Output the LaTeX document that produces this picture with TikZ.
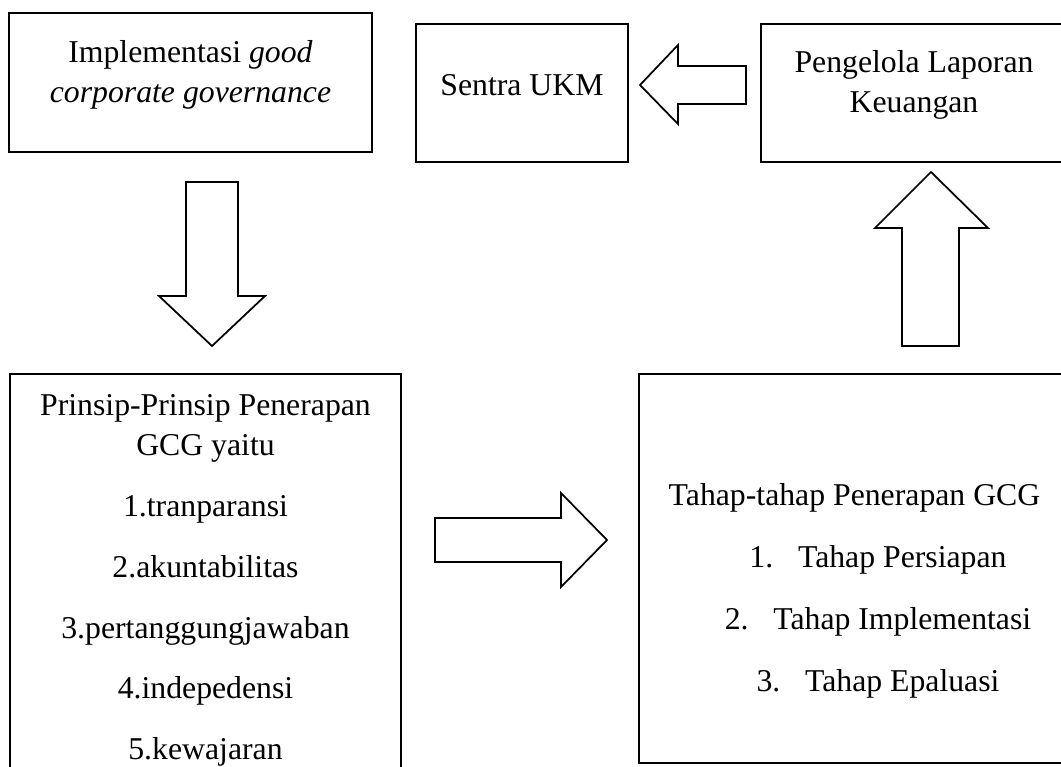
\documentclass[tikz,border=0pt]{standalone}
\usepackage{fontspec}
\setmainfont{Liberation Serif}

\begin{document}
\begin{tikzpicture}[x = 0.4pt, y = -0.4pt, font = \fontsize{12.7}{15}\selectfont]
\tikzstyle{kotakStyle} = [draw, line width = 0.8pt]
\tikzstyle{panahStyle} = [draw, line width = 0.7pt, fill = white, line join = miter]
\tikzstyle{teksStyle} = [anchor = base, inner sep = 0pt]
\useasboundingbox (0,0) rectangle (1061,767);
% kotak
\draw[kotakStyle] (9,13) rectangle (372,152);
\draw[kotakStyle] (416,24) rectangle (628,162);
\draw[kotakStyle] (761,24) rectangle (1066,162);
\draw[kotakStyle] (10,374) rectangle (401,772);
\draw[kotakStyle] (639,374) rectangle (1066,763);
% teks
\node[teksStyle] (impl1) at (190.5,62) {Implementasi \textit{good}};
\node[teksStyle] (impl2) at (190.5,102) {\textit{corporate governance}};
\node[teksStyle] (sentra) at (522,95.5) {Sentra UKM};
\node[teksStyle] (kelola1) at (914,72) {Pengelola Laporan};
\node[teksStyle] (kelola2) at (914,112) {Keuangan};
\node[teksStyle] (prinsip1) at (205.5,415) {Prinsip-Prinsip Penerapan};
\node[teksStyle] (prinsip2) at (205.5,455) {GCG yaitu};
\node[teksStyle] (p1) at (205.5,516) {1.tranparansi};
\node[teksStyle] (p2) at (205.5,577) {2.akuntabilitas};
\node[teksStyle] (p3) at (205.5,638) {3.pertanggungjawaban};
\node[teksStyle] (p4) at (205.5,698) {4.indepedensi};
\node[teksStyle] (p5) at (205.5,759) {5.kewajaran};
\node[teksStyle] (tahap) at (854.5,505) {Tahap-tahap Penerapan GCG};
\node[teksStyle] (t1) at (878,567) {1.\hspace{0.78em}Tahap Persiapan};
\node[teksStyle] (t2) at (878,629) {2.\hspace{0.78em}Tahap Implementasi};
\node[teksStyle] (t3) at (878,691) {3.\hspace{0.78em}Tahap Epaluasi};
% panah blok
\draw[panahStyle] (186,182) -- (238,182) -- (238,296) -- (265,296) -- (212,346) -- (159,296) -- (186,296) -- cycle;
\draw[panahStyle] (435,518) -- (561,518) -- (561,493) -- (607,540) -- (561,587) -- (561,562) -- (435,562) -- cycle;
\draw[panahStyle] (902,346) -- (959,346) -- (959,228) -- (988,228) -- (931,172) -- (875,228) -- (902,228) -- cycle;
\draw[panahStyle] (746,66) -- (678,66) -- (678,45) -- (640,85) -- (678,124) -- (678,104) -- (746,104) -- cycle;
\end{tikzpicture}
\end{document}
